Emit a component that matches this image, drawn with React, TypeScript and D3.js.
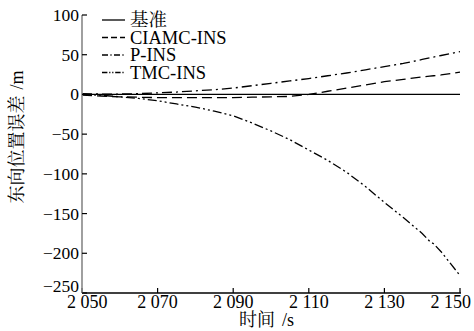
import React from "react";
import * as d3 from "d3";

const times = [2050, 2055, 2060, 2065, 2070, 2075, 2080, 2085, 2090, 2095, 2100, 2105, 2110, 2115, 2120, 2125, 2130, 2135, 2140, 2142, 2143, 2145, 2150];
const baseline = times.map(() => 0);
const ciamc = [-1, -2, -3, -3.5, -4, -4, -4, -4, -4, -3.5, -3, -2.5, 0, 4, 8, 12, 16, 19, 22, 23, 23.5, 24.5, 28];
const pins = [1, 0.5, 0.5, 1, 2, 3, 4.5, 6, 8, 11, 14, 17, 20, 23.5, 27, 31, 35, 39, 44, 46, 47, 49, 54];
const tmc = [0, -1, -3, -5, -8, -12, -16, -21, -27, -36, -46, -57, -70, -83, -98, -116, -136, -155, -175, -185, -188, -198, -228];

const xTicks = [2050, 2070, 2090, 2110, 2130, 2150];
const xTickLabels = ["2 050", "2 070", "2 090", "2 110", "2 130", "2 150"];
const yTicks = [100, 50, 0, -50, -100, -150, -200, -250];
const yTickLabels = ["100", "50", "0", "\u221250", "\u2212100", "\u2212150", "\u2212200", "\u2212250"];

const seriesNames = ["基准", "CIAMC-INS", "P-INS", "TMC-INS"];
const seriesValues = [baseline, ciamc, pins, tmc];
const dashes = ["", "10,5", "10,4,2,4", "9,3,2,3,2,3"];

const FONT = "'Liberation Serif', 'Times New Roman', 'Noto Serif CJK SC', 'Noto Sans CJK SC', serif";

export default function App() {
  const x = d3.scaleLinear().domain([2050, 2150]).range([82, 460]);
  const y = d3.scaleLinear().domain([-250, 100]).range([293, 15]);
  const line = d3.line<number>().x((_, i) => x(times[i])).y((d) => y(d));

  return (
    <svg width={474} height={331} style={{ position: "absolute", left: 0, top: 0, background: "#fff" }} fontFamily={FONT}>
      {seriesValues.map((vals, i) => (
        <path key={i} d={line(vals) || ""} fill="none" stroke="#000" strokeWidth={1.3} strokeDasharray={dashes[i]} />
      ))}
      {/* x axis */}
      <line x1={82} x2={461} y1={y(-250)} y2={y(-250)} stroke="#000" strokeWidth={1.3} />
      {xTicks.map((t, i) => {
        const last = i === xTicks.length - 1;
        const first = i === 0;
        return (
          <g key={t}>
            <line x1={x(t)} x2={x(t)} y1={y(-250)} y2={y(-250) - 5} stroke="#000" strokeWidth={1.2} />
            <text x={first ? 67 : last ? 471 : x(t)} y={308} textAnchor={first ? "start" : last ? "end" : "middle"} fontSize={18}>{xTickLabels[i]}</text>
          </g>
        );
      })}
      {/* y axis */}
      <line x1={82} x2={82} y1={y(100)} y2={y(-250)} stroke="#888" strokeWidth={1.6} />
      {yTicks.map((t, i) => (
        <g key={t}>
          <line x1={82} x2={87} y1={y(t)} y2={y(t)} stroke="#000" strokeWidth={1.2} />
          <text x={79} y={i === yTicks.length - 1 ? 292 : y(t) + 6} textAnchor="end" fontSize={17.5}>{yTickLabels[i]}</text>
        </g>
      ))}
      {/* legend */}
      {seriesNames.map((n, i) => (
        <g key={n}>
          <line x1={102} x2={125} y1={20 + i * 17.5} y2={20 + i * 17.5} stroke="#000" strokeWidth={1.3} strokeDasharray={i === 0 ? "" : dashes[i].split(",").map((v) => String(Math.max(1, +v * 0.6))).join(",")} />
          <text x={130} y={20 + i * 17.5 + 6} fontSize={18.5}>{n}</text>
        </g>
      ))}
      <text x={239} y={326} fontSize={18}>
        时间<tspan dx={7}>/s</tspan>
      </text>
      <text transform="translate(23,137) rotate(-90)" textAnchor="middle" fontSize={18}>
        东向位置误差<tspan dx={6}>/m</tspan>
      </text>
    </svg>
  );
}
